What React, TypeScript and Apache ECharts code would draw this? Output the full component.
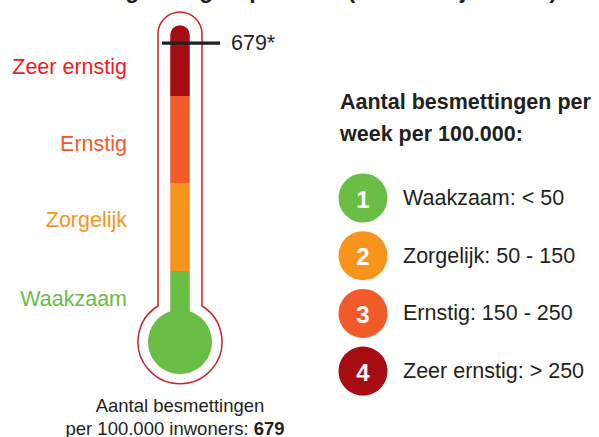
import React, { useEffect, useRef } from "react";
import * as echarts from "echarts";

// ---- data ----
const levels = ["Waakzaam", "Zorgelijk", "Ernstig", "Zeer ernstig"];
const levelColors = ["#6abd45", "#f7941d", "#f15a29", "#a50d12"];
const labelColors = ["#6abd45", "#f7941d", "#f15a29", "#ed1c24"];
const bandEdges = [0, 50, 150, 250, 825]; // infections per 100.000 per band (top band truncated)
const bandSpans = [1, 1, 1, 0.81]; // thermometer height per band (level units)
const rangeLabels = ["< 50", "50 - 150", "150 - 250", "> 250"];
const currentValue = 679;
const titleText = "Besmettingen in groep 13 - 17 (13 t/m 17 jaar oud)";
const captionLine1 = "Aantal besmettingen";
const captionLine2 = "per 100.000 inwoners: ";
const panelTitle = ["Aantal besmettingen per", "week per 100.000:"];

const FONT = "'Liberation Sans', Arial, Helvetica, sans-serif";
const DARK = "#231f20";

function levelOf(v: number): number {
  let acc = 0;
  for (let i = 0; i < bandSpans.length; i++) {
    const lo = bandEdges[i];
    const hi = bandEdges[i + 1];
    if (v <= hi || i === bandSpans.length - 1) {
      return acc + ((v - lo) / (hi - lo)) * bandSpans[i];
    }
    acc += bandSpans[i];
  }
  return acc;
}

const outlinePath =
  "M158 306 L158 34 A22 22 0 0 1 202 34 L202 306 A42 42 0 1 1 158 306 Z";
echarts.graphic.registerShape(
  "thermoOutline",
  echarts.graphic.extendPath(outlinePath, {}) as any
);

function buildOption() {
  const lvl = levelOf(currentValue);
  const graphic: any[] = [];

  // partial title at the top (cut off by the page edge, as in the source)
  graphic.push({
    type: "text",
    x: 14,
    y: -10,
    style: {
      text: titleText,
      fontFamily: FONT,
      fontSize: 23,
      fontWeight: "bold",
      fill: DARK,
      verticalAlign: "middle",
    },
  });

  // thermometer outline
  graphic.push({
    type: "thermoOutline",
    x: 0,
    y: 0,
    z: 1,
    style: { fill: "none", stroke: "#c8202f", lineWidth: 1.5 },
  });
  // bulb
  graphic.push({
    type: "circle",
    z: 10,
    shape: { cx: 180, cy: 342, r: 32 },
    style: { fill: levelColors[0] },
  });

  // left labels
  const labelY = [299, 220, 144, 67];
  levels.forEach((name, i) => {
    graphic.push({
      type: "text",
      x: 127,
      y: labelY[i],
      style: {
        text: name,
        fontFamily: FONT,
        fontSize: 21.5,
        fill: labelColors[i],
        align: "right",
        verticalAlign: "middle",
      },
    });
  });

  // caption under thermometer
  graphic.push({
    type: "text",
    x: 180,
    y: 405,
    style: {
      text: captionLine1,
      fontFamily: FONT,
      fontSize: 18.5,
      fill: DARK,
      align: "center",
      verticalAlign: "middle",
    },
  });
  graphic.push({
    type: "text",
    x: 175,
    y: 428,
    style: {
      text: captionLine2 + "{b|" + currentValue + "}",
      fontFamily: FONT,
      fontSize: 18.5,
      fill: DARK,
      align: "center",
      verticalAlign: "middle",
      rich: {
        b: { fontFamily: FONT, fontSize: 18.5, fontWeight: "bold", fill: DARK },
      },
    },
  });

  // right panel title
  panelTitle.forEach((t, i) => {
    graphic.push({
      type: "text",
      x: 340,
      y: 102 + i * 32,
      style: {
        text: t,
        fontFamily: FONT,
        fontSize: 21.5,
        fontWeight: "bold",
        fill: DARK,
        verticalAlign: "middle",
      },
    });
  });

  // legend
  levels.forEach((name, i) => {
    const cy = 198 + i * 57.7;
    graphic.push({
      type: "circle",
      shape: { cx: 363, cy, r: 24.5 },
      style: { fill: levelColors[i] },
    });
    graphic.push({
      type: "text",
      x: 363,
      y: cy + 1,
      style: {
        text: String(i + 1),
        fontFamily: FONT,
        fontSize: 24,
        fontWeight: "bold",
        fill: "#ffffff",
        align: "center",
        verticalAlign: "middle",
      },
    });
    graphic.push({
      type: "text",
      x: 403,
      y: cy,
      style: {
        text: name + ": " + rangeLabels[i],
        fontFamily: FONT,
        fontSize: 21.5,
        fill: DARK,
        verticalAlign: "middle",
      },
    });
  });

  const barSeries = levels.map((name, i) => ({
    type: "bar",
    name,
    stack: "thermo",
    xAxisIndex: 0,
    yAxisIndex: 0,
    data: [bandSpans[i]],
    barWidth: 19.5,
    silent: true,
    itemStyle: {
      color: levelColors[i],
      borderRadius: i === levels.length - 1 ? [9.75, 9.75, 0, 0] : 0,
    },
  }));

  return {
    animation: false,
    backgroundColor: "#ffffff",
    grid: { left: 140, width: 80, top: 8.5, height: 350 },
    xAxis: [
      { type: "category", data: ["v"], show: false },
      { type: "value", min: 0, max: 1, show: false },
    ],
    yAxis: [{ type: "value", min: 0, max: 4, show: false }],
    series: [
      ...barSeries,
      {
        type: "line",
        xAxisIndex: 1,
        yAxisIndex: 0,
        z: 5,
        silent: true,
        symbol: "none",
        data: [
          [0.275, lvl],
          [1, lvl],
        ],
        lineStyle: { color: DARK, width: 3.2 },
        endLabel: {
          show: true,
          formatter: currentValue + "*",
          distance: 11,
          fontFamily: FONT,
          fontSize: 21.5,
          color: DARK,
        },
      },
    ],
    graphic,
  };
}

export default function App() {
  const ref = useRef<HTMLDivElement>(null);
  useEffect(() => {
    const chart = echarts.init(ref.current!, null, { renderer: "svg" });
    chart.setOption(buildOption() as any);
    return () => chart.dispose();
  }, []);
  return (
    <div
      ref={ref}
      style={{
        position: "fixed",
        left: 0,
        top: 0,
        width: 599,
        height: 437,
        background: "#fff",
      }}
    />
  );
}
